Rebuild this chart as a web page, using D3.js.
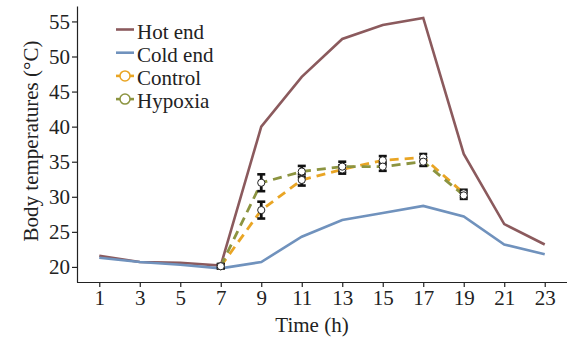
<!DOCTYPE html>
<html><head><meta charset="utf-8">
<script src="https://cdn.jsdelivr.net/npm/d3@7"></script>
<style>body{margin:0;background:#fff}svg{display:block}</style>
</head><body><svg id="c" width="567" height="340" font-family="Liberation Serif"></svg>
<script>
const hours = [1,3,5,7,9,11,13,15,17,19,21,23];
const hotEnd = [21.6,20.7,20.6,20.2,40.0,47.1,52.5,54.5,55.5,36.1,26.1,23.2];
const coldEnd = [21.3,20.7,20.3,19.8,20.7,24.3,26.7,27.7,28.7,27.2,23.2,21.8];
const trtHours = [7,9,11,13,15,17,19];
const control = [20.1,28.1,32.4,33.9,35.2,35.6,30.5];
const controlErr = [0.3,1.2,0.8,0.6,0.6,0.5,0.5];
const hypoxia = [20.1,32.0,33.6,34.3,34.3,35.0,30.2];
const hypoxiaErr = [0.3,1.2,0.8,0.7,0.6,0.6,0.5];
const xTicks = [1,3,5,7,9,11,13,15,17,19,21,23];
const yTicks = [20,25,30,35,40,45,50,55];

const FONT = "'Liberation Serif', 'Times New Roman', serif";
const svg = d3.select("#c");
const x = d3.scaleLinear().domain([-0.1,24.1]).range([77,567]);
const y = d3.scaleLinear().domain([17.85,57.2]).range([282,6]);

const gx = svg.append("g").attr("transform","translate(0,282)")
  .call(d3.axisBottom(x).tickValues(xTicks).tickSize(5).tickPadding(3).tickSizeOuter(0));
const gy = svg.append("g").attr("transform","translate(77,0)")
  .call(d3.axisLeft(y).tickValues(yTicks).tickSize(5).tickPadding(2).tickSizeOuter(0));
[gx,gy].forEach(g=>{
  g.attr("font-family",null).attr("font-size",null);
  g.selectAll("text").style("font-family",FONT).style("font-size","21px").style("fill","#222");
  g.selectAll("line,path").attr("stroke","#222").attr("stroke-width",1.2);
});
gx.select(".domain").attr("d","M77,0.5H567");

svg.append("text").attr("x",312).attr("y",332).attr("text-anchor","middle")
  .style("font-family",FONT).style("font-size","21px").style("fill","#222").text("Time (h)");
svg.append("text").attr("transform","translate(38,141) rotate(-90)").attr("text-anchor","middle")
  .style("font-family",FONT).style("font-size","21px").style("fill","#222").text("Body temperatures (°C)");

const line = d3.line().x(d=>x(d[0])).y(d=>y(d[1]));
const colHot="#8b5a5d", colCold="#7092bd", colCtl="#e9a524", colHyp="#8c9440";
svg.append("path").attr("d",line(hours.map((h,i)=>[h,hotEnd[i]]))).attr("fill","none").attr("stroke",colHot).attr("stroke-width",2.6);
svg.append("path").attr("d",line(hours.map((h,i)=>[h,coldEnd[i]]))).attr("fill","none").attr("stroke",colCold).attr("stroke-width",2.6);
svg.append("path").attr("d",line(trtHours.map((h,i)=>[h,control[i]]))).attr("fill","none").attr("stroke",colCtl).attr("stroke-width",2.8).attr("stroke-dasharray","9,6");
svg.append("path").attr("d",line(trtHours.map((h,i)=>[h,hypoxia[i]]))).attr("fill","none").attr("stroke",colHyp).attr("stroke-width",2.8).attr("stroke-dasharray","9,6");

function errs(vals,err){
  const g = svg.append("g");
  trtHours.forEach((h,i)=>{
    const cx=x(h), y1=y(vals[i]+err[i]), y2=y(vals[i]-err[i]);
    g.append("line").attr("x1",cx).attr("x2",cx).attr("y1",y1).attr("y2",y2).attr("stroke","#111").attr("stroke-width",2.8);
    g.append("line").attr("x1",cx-4).attr("x2",cx+4).attr("y1",y1).attr("y2",y1).attr("stroke","#111").attr("stroke-width",2.6);
    g.append("line").attr("x1",cx-4).attr("x2",cx+4).attr("y1",y2).attr("y2",y2).attr("stroke","#111").attr("stroke-width",2.6);
  });
}
function pts(vals){
  svg.append("g").selectAll("circle").data(trtHours).join("circle")
    .attr("cx",d=>x(d)).attr("cy",(d,i)=>y(vals[i])).attr("r",3.6)
    .attr("fill","#fff").attr("stroke","#222").attr("stroke-width",1);
}
errs(control,controlErr); errs(hypoxia,hypoxiaErr);
pts(control); pts(hypoxia);

const legend = [["Hot end",colHot,false],["Cold end",colCold,false],["Control",colCtl,true],["Hypoxia",colHyp,true]];
legend.forEach((d,i)=>{
  const ly = 29.5 + i*23.2;
  svg.append("line").attr("x1",116).attr("x2",134).attr("y1",ly).attr("y2",ly).attr("stroke",d[1]).attr("stroke-width",2.6);
  if(d[2]) svg.append("circle").attr("cx",125).attr("cy",ly).attr("r",5).attr("fill","#fff").attr("stroke",d[1]).attr("stroke-width",1.5);
  svg.append("text").attr("x",137).attr("y",ly+9).style("font-family",FONT).style("font-size","21px").style("fill","#222").text(d[0]);
});
</script></body></html>
